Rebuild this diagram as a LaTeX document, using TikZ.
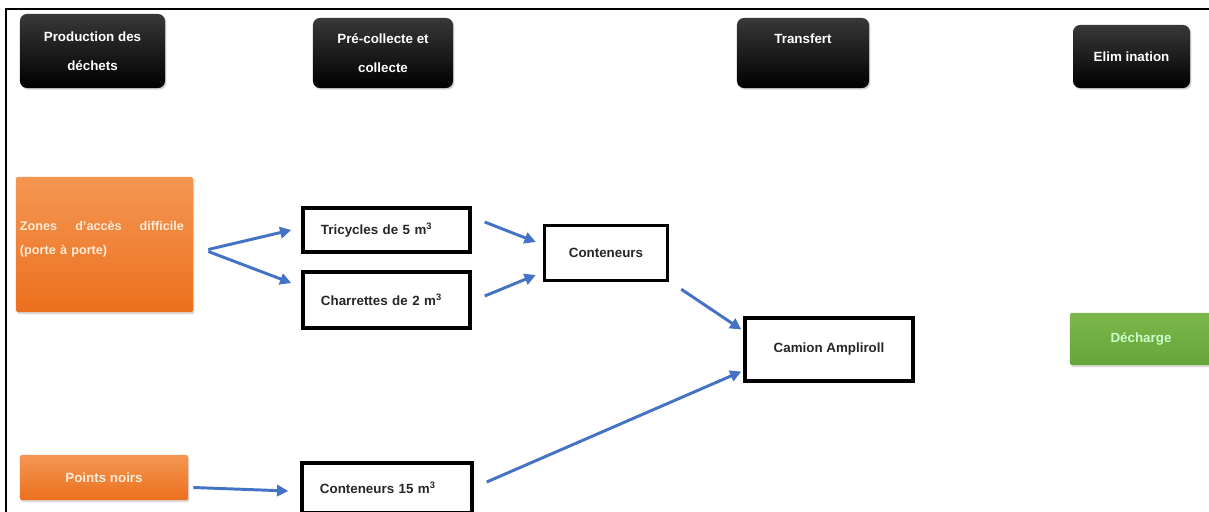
\documentclass[tikz,border=0pt]{standalone}
\usepackage{fontspec}
\setmainfont{Liberation Sans}
\usepackage{tikz}
\usetikzlibrary{arrows.meta,shadows}
\definecolor{arrblue}{RGB}{68,114,196}
\definecolor{orgtop}{RGB}{244,150,82}
\definecolor{orgbot}{RGB}{236,112,30}
\definecolor{grntop}{RGB}{124,182,74}
\definecolor{grnbot}{RGB}{100,166,58}
\tikzset{
  hdr/.style={rounded corners=5pt,align=center,text=white,
              font=\bfseries\fontsize{9.5}{21}\selectfont,
              top color=black!78,middle color=black,bottom color=black,
              drop shadow={shadow xshift=1pt,shadow yshift=-1.2pt,opacity=.35}},
  obox/.style={rounded corners=1pt,text=orange!15,font=\bfseries\fontsize{9.5}{17}\selectfont,
               top color=orgtop,bottom color=orgbot,
               drop shadow={shadow xshift=1pt,shadow yshift=-1.5pt,opacity=.3}},
  gbox/.style={rounded corners=1pt,text=green!20,font=\bfseries\fontsize{9.5}{10}\selectfont,
               top color=grntop,bottom color=grnbot,
               drop shadow={shadow xshift=1pt,shadow yshift=-1.5pt,opacity=.3}},
  wbox/.style={draw=black,line width=2.4pt,fill=white,font=\bfseries\fontsize{9.5}{10}\selectfont,
               text=black!85},
  lbox/.style={wbox,align=left,inner xsep=0.45cm},
  arr/.style={-{Triangle[length=8pt,width=8pt]},line width=2.1pt,draw=arrblue},
}
\begin{document}
\begin{tikzpicture}[x=0.025cm,y=-0.025cm]
\useasboundingbox (0,0) rectangle (1209,512);
\draw[line width=1.6pt] (6,520) -- (6,9) -- (1215,9);

% stage headers
\node[hdr,minimum width=3.625cm,minimum height=1.85cm] (prod) at (92.5,51) {Production des\\d\'echets};
\node[hdr,minimum width=3.5cm,minimum height=1.75cm] (precol) at (383,53) {Pr\'e-collecte et\\collecte};
\node[hdr,minimum width=3.3cm,minimum height=1.75cm] (transf) at (803,53) {Transfert\\~};
\node[hdr,minimum width=2.925cm,minimum height=1.575cm] (elim) at (1131.5,56.5) {Elim ination};

% sources
\node[obox,minimum width=4.425cm,minimum height=3.375cm] (zones) at (104.5,244.5) {};
\node[text=orange!15,font=\bfseries\fontsize{9}{17}\selectfont,text width=4.1cm,align=left,
      inner sep=0pt] (zonestxt) at (102,239) {Zones\hfill d'acc\`es\hfill difficile\\(porte \`a porte)};
\node[obox,minimum width=4.2cm,minimum height=1.125cm] (noirs) at (104,477.5) {Points noirs};

% pre-collection
\node[lbox,text width=3.275cm,minimum height=1.1cm] (tri) at (386.5,230) {Tricycles de 5 m\textsuperscript{3}};
\node[lbox,text width=3.275cm,minimum height=1.4cm] (charr) at (386.5,300) {Charrettes de 2 m\textsuperscript{3}};
\node[lbox,text width=3.35cm,minimum height=1.25cm] (cont15) at (387,488) {Conteneurs 15 m\textsuperscript{3}};
\node[wbox,minimum width=3.075cm,minimum height=1.375cm] (cont) at (606,253) {Conteneurs};

% transfer and disposal
\node[wbox,minimum width=4.2cm,minimum height=1.575cm] (camion) at (829,349.5) {Camion Ampliroll};
\node[gbox,minimum width=3.55cm,minimum height=1.3cm] (decharge) at (1141,339) {D\'echarge};

% flows
\draw[arr] ([shift={(15,5)}]zones.east) -- ([shift={(-10,0)}]tri.west);
\draw[arr] ([shift={(15,7)}]zones.east) -- ([shift={(-10,-17)}]charr.west);
\draw[arr] ([shift={(13,-8)}]tri.east) -- ([shift={(-7,-11)}]cont.west);
\draw[arr] ([shift={(13,-4)}]charr.east) -- ([shift={(-7,22)}]cont.west);
\draw[arr] ([shift={(12,7)}]cont.south east) -- ([shift={(-2,-20)}]camion.west);
\draw[arr] ([shift={(13,-6)}]cont15.east) -- ([shift={(-2,22)}]camion.west);
\draw[arr] ([shift={(5,10)}]noirs.east) -- ([shift={(-12,3)}]cont15.west);
\end{tikzpicture}
\end{document}
